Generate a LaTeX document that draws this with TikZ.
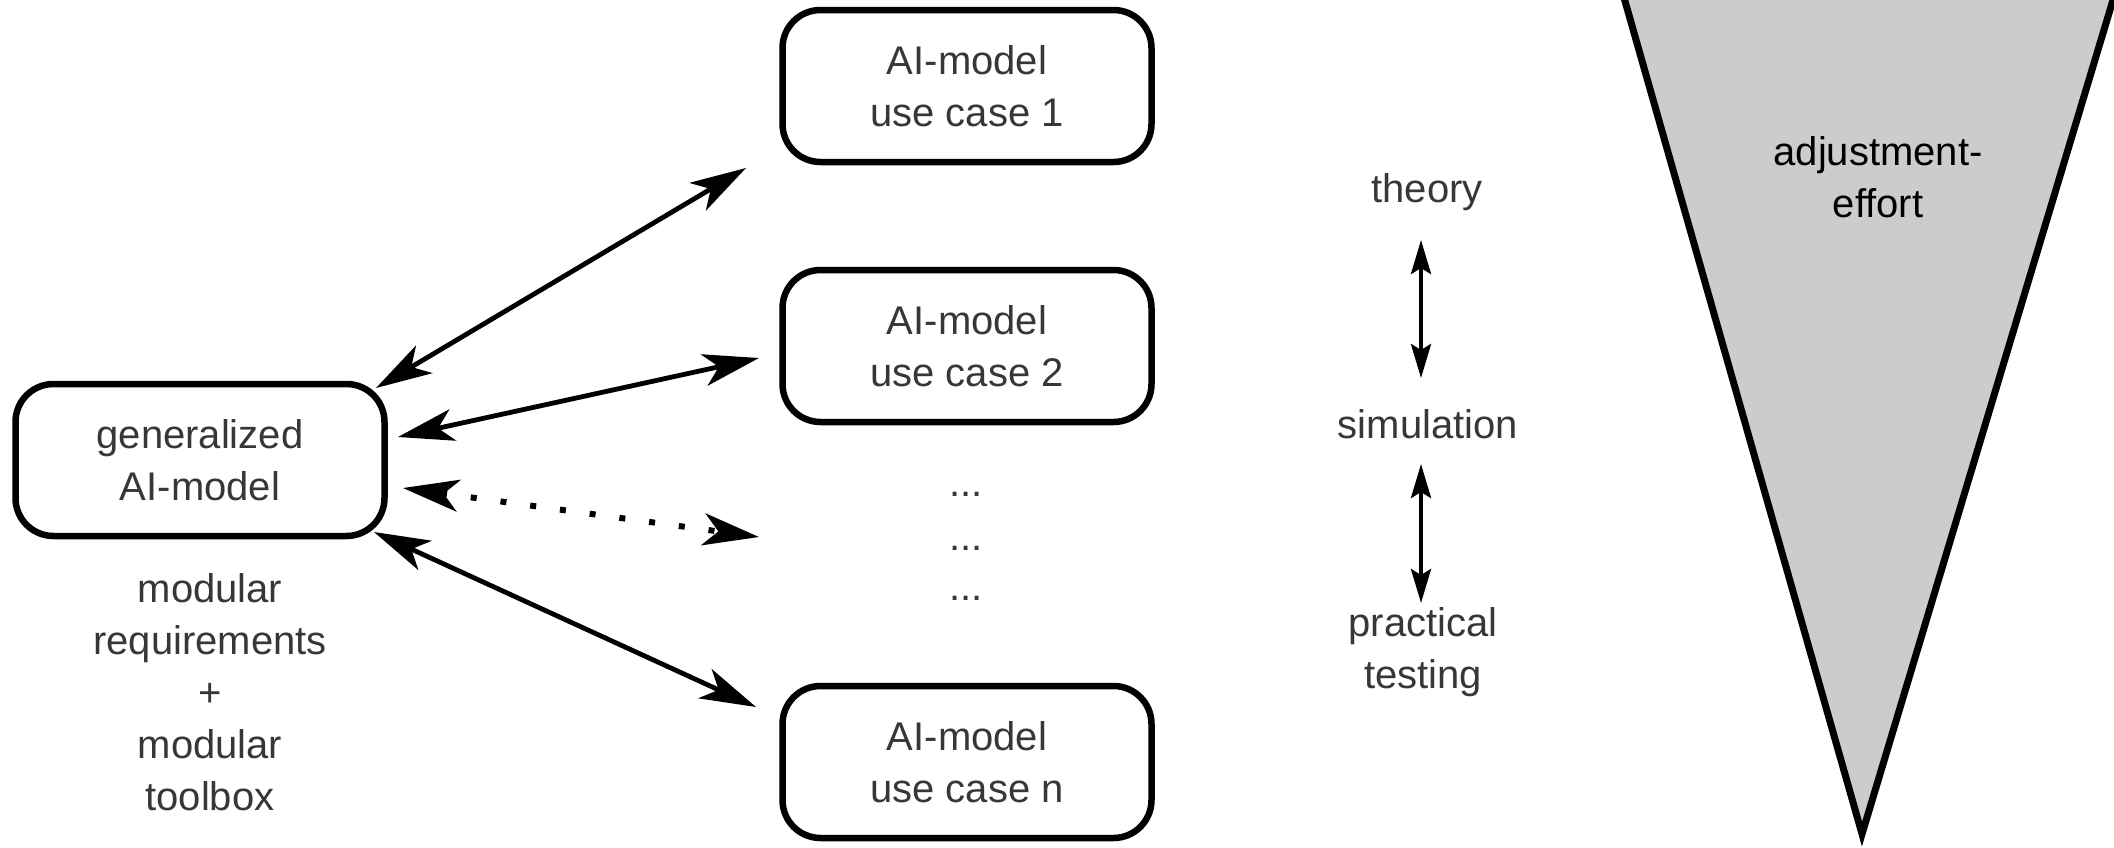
\documentclass[tikz,border=0pt]{standalone}
\usepackage{fontspec}
\setmainfont{Liberation Sans}
\usetikzlibrary{arrows.meta}
\definecolor{txt}{RGB}{55,55,55}
\definecolor{trifill}{RGB}{204,204,204}
\begin{document}
\begin{tikzpicture}[x=1pt,y=-1pt,
  box/.style={draw, line width=6.5pt, rounded corners=38pt, minimum width=369pt, minimum height=152pt, align=center, text=txt, font=\fontsize{40}{52}\selectfont},
  lbl/.style={align=center, text=txt, font=\fontsize{40}{52}\selectfont},
  biarrow/.style={line width=4.8pt, {Stealth[length=56pt,width=32pt,inset=15pt]}-{Stealth[length=56pt,width=32pt,inset=15pt]}},
  dotarrow/.style={biarrow, line width=6pt, dash pattern=on 6pt off 24pt},
  varrow/.style={line width=4pt, {Stealth[length=34pt,width=20pt,inset=6pt]}-{Stealth[length=34pt,width=20pt,inset=6pt]}}
]
\clip (0,0) rectangle (2114,847);
\fill[white] (0,0) rectangle (2114,847);

% triangle
\draw[line width=7pt, line join=miter, fill=trifill] (1619,-20) -- (1862,834) -- (2119,-20) -- cycle;
\node[align=center, text=black, font=\fontsize{40}{52}\selectfont] (effort) at (1878,177) {adjustment-\\effort};

% boxes
\node[box] (gen) at (200,460) {generalized\\AI-model};
\node[box] (uc1) at (967,86) {AI-model\\use case 1};
\node[box] (uc2) at (967,346) {AI-model\\use case 2};
\node[box] (ucn) at (967,762) {AI-model\\use case n};

\node[lbl] (mod) at (210,692) {modular\\requirements\\+\\modular\\toolbox};

\node[lbl, anchor=base] (d1) at (966,496) {...};
\node[lbl, anchor=base] (d2) at (966,550) {...};
\node[lbl, anchor=base] (d3) at (966,600) {...};

% arrows
\coordinate (g1) at (376,388); \coordinate (u1) at (746,168);
\coordinate (g2) at (398,437); \coordinate (u2) at (759,358);
\coordinate (g3) at (403,488); \coordinate (u3) at (759,537);
\coordinate (g4) at (374,532); \coordinate (u4) at (756,707);
\draw[biarrow] (g1) -- (u1);
\draw[biarrow] (g2) -- (u2);
\draw[dotarrow] (g3) -- (u3);
\draw[biarrow] (g4) -- (u4);

% right column
\node[lbl] (theory) at (1427,192) {theory};
\node[lbl] (sim) at (1428,424) {simulation};
\node[lbl] (prac) at (1423,652) {practical\\testing};
\coordinate (t1) at (1421,240); \coordinate (s1) at (1421,378);
\coordinate (s2) at (1421,464); \coordinate (p1) at (1421,603);
\draw[varrow] (t1) -- (s1);
\draw[varrow] (s2) -- (p1);
\end{tikzpicture}
\end{document}
